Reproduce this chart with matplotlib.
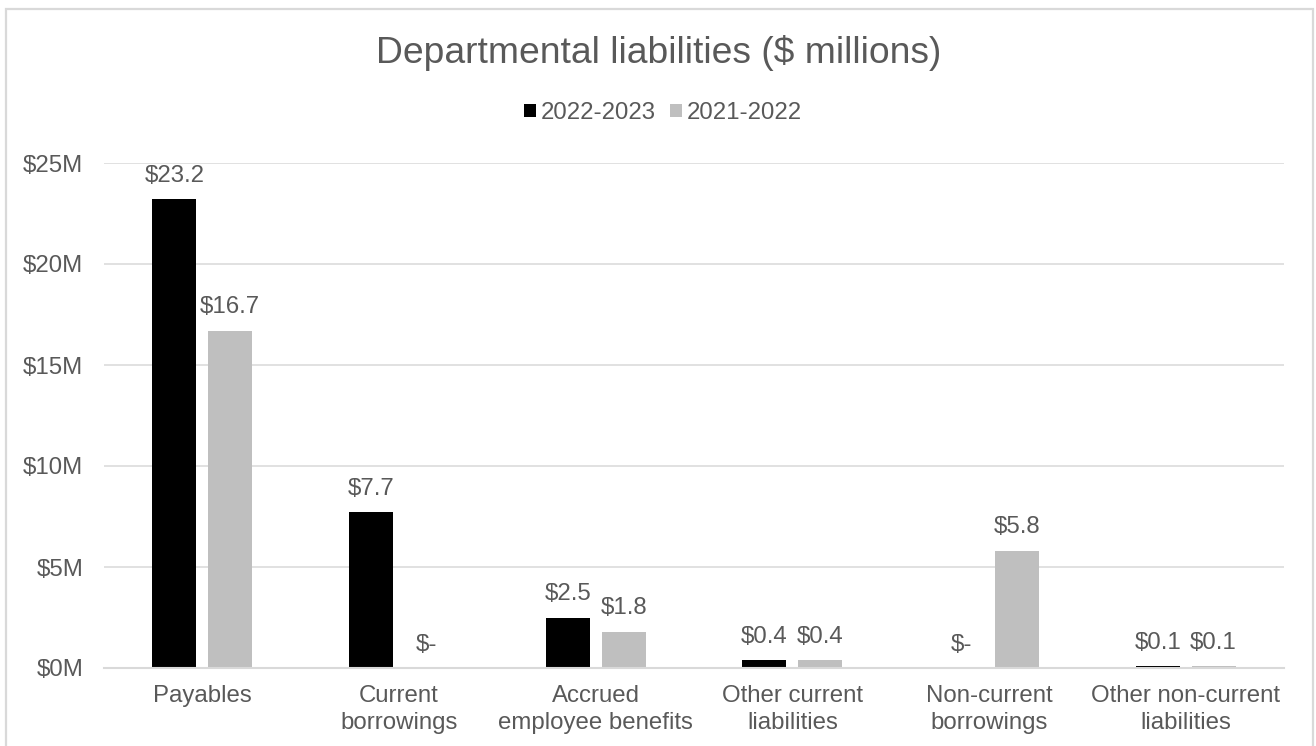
import matplotlib.pyplot as plt
import matplotlib.patches as patches
import numpy as np

# Datos del gráfico
categories = ['Payables', 'Current\nborrowings', 'Accrued\nemployee benefits',
              'Other current\nliabilities', 'Non-current\nborrowings',
              'Other non-current\nliabilities']
series_names = ['2022-2023', '2021-2022']
values_2023 = [23.2, 7.7, 2.5, 0.4, 0.0, 0.1]
values_2022 = [16.7, 0.0, 1.8, 0.4, 5.8, 0.1]
y_ticks = [0, 5, 10, 15, 20, 25]

text_color = '#595959'
grid_color = '#D9D9D9'
colors = ['#000000', '#BFBFBF']
fs = 17.3

plt.rcParams['font.family'] = ['Liberation Sans', 'DejaVu Sans']

W, H = 1316, 746
fig = plt.figure(figsize=(W / 100, H / 100), dpi=100)
ax = fig.add_axes([104 / W, 1 - 668 / H, (1284 - 104) / W, (668 - 163) / H])

x = np.arange(len(categories))
width = 0.224
offset = 0.142

bars = []
for vals, off, col, name in [(values_2023, -offset, colors[0], series_names[0]),
                             (values_2022, offset, colors[1], series_names[1])]:
    b = ax.bar(x + off, vals, width, color=col, label=name, zorder=3)
    bars.append(b)
    # Etiquetas de datos
    for xi, v in zip(x + off, vals):
        label = '$-' if v == 0 else f'${v:.1f}'
        ax.annotate(label, xy=(xi, v), xytext=(0, 12.5), textcoords='offset points',
                    ha='center', va='baseline', fontsize=fs, color=text_color)

ax.set_xlim(-0.5, len(categories) - 0.5)
ax.set_ylim(0, 25)
ax.set_yticks(y_ticks)
ax.set_yticklabels([f'${t}M' for t in y_ticks])
ax.set_xticks(x)
ax.set_xticklabels(categories, linespacing=1.3)
ax.tick_params(axis='both', length=0, labelsize=fs, labelcolor=text_color)
ax.tick_params(axis='y', pad=15)
ax.tick_params(axis='x', pad=12)

ax.yaxis.grid(True, color=grid_color, linewidth=1.1, zorder=0)
for s in ['top', 'right', 'left']:
    ax.spines[s].set_visible(False)
ax.spines['bottom'].set_color(grid_color)
ax.spines['bottom'].set_linewidth(1.5)
ax.spines['bottom'].set_zorder(4)

# Título
fig.text(659 / W, 1 - 63 / H, 'Departmental liabilities ($ millions)',
         ha='center', va='baseline', fontsize=26.8, color=text_color)

# Leyenda
fig.legend(handles=bars, labels=series_names, loc='center',
           bbox_to_anchor=(663 / W, 1 - 113 / H), ncol=2, frameon=False,
           fontsize=fs, labelcolor=text_color, handlelength=0.5,
           handleheight=0.5, handletextpad=0.2, columnspacing=0.6)

# Borde del gráfico
border = patches.Rectangle((5.5 / W, -0.05), (1313 - 5.5) / W, 1.05 - 8.5 / H,
                           transform=fig.transFigure, fill=False,
                           edgecolor=grid_color, linewidth=1.6)
fig.patches.append(border)

fig.savefig('out.png', dpi=100)
